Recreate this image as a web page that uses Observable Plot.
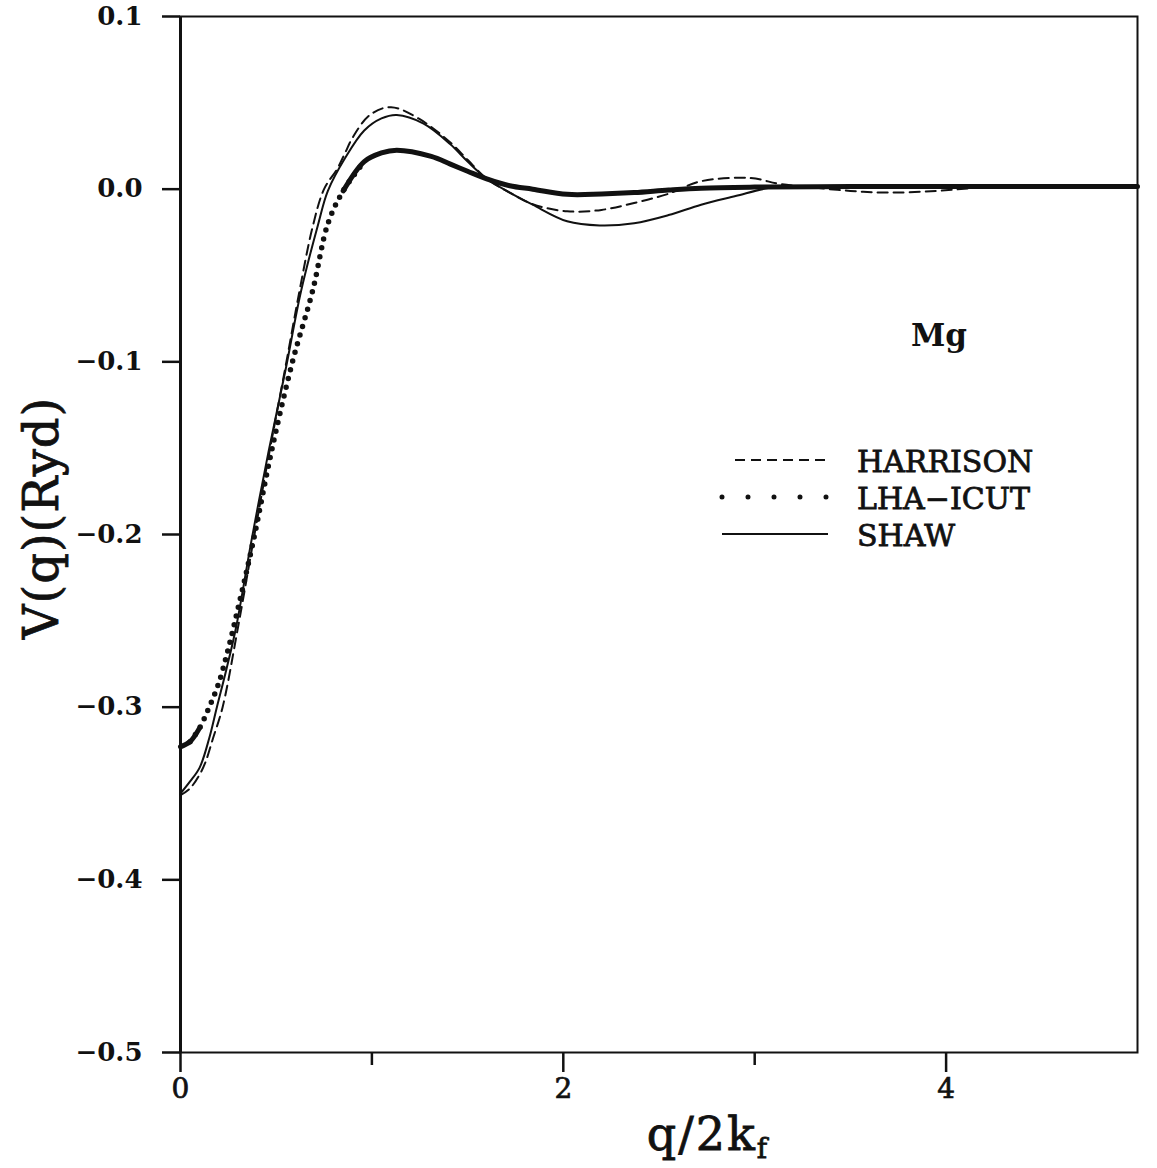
<!DOCTYPE html>
<html><head><meta charset="utf-8">
<script src="https://cdn.jsdelivr.net/npm/d3@7"></script>
<script src="https://cdn.jsdelivr.net/npm/@observablehq/plot@0.6"></script>
<style>body{margin:0;background:#fff}</style>
</head><body><div id="chart"></div>
<script>
// ---- data ----
const qShaw = [0, 0.05, 0.10, 0.15, 0.19, 0.24, 0.29, 0.37, 0.46, 0.55, 0.63, 0.72, 0.77, 0.86, 0.96, 1.05, 1.13, 1.27, 1.41, 1.50, 1.60, 1.72, 1.84, 2.02, 2.19, 2.37, 2.55, 2.72, 2.90, 3.07, 3.20, 3.60, 4.00, 4.50, 5.00];
const vShaw = [-0.350, -0.343, -0.335, -0.318, -0.300, -0.278, -0.254, -0.204, -0.152, -0.104, -0.059, -0.020, -0.001, 0.018, 0.034, 0.041, 0.043, 0.038, 0.026, 0.016, 0.006, -0.002, -0.009, -0.0186, -0.021, -0.0197, -0.015, -0.009, -0.004, 0.0006, 0.0015, 0.0015, 0.0015, 0.0015, 0.0015];

const qHarrison = [0, 0.05, 0.10, 0.13, 0.17, 0.22, 0.30, 0.38, 0.465, 0.55, 0.62, 0.69, 0.75, 0.82, 0.86, 0.90, 0.99, 1.10, 1.25, 1.41, 1.50, 1.60, 1.72, 1.84, 2.02, 2.20, 2.37, 2.54, 2.72, 2.98, 3.13, 3.30, 3.50, 3.70, 3.95, 4.20, 4.60, 5.00];
const vHarrison = [-0.351, -0.347, -0.339, -0.332, -0.318, -0.300, -0.254, -0.204, -0.152, -0.102, -0.060, -0.022, 0.000, 0.012, 0.021, 0.030, 0.043, 0.0475, 0.0405, 0.027, 0.017, 0.006, -0.002, -0.0087, -0.0128, -0.012, -0.008, -0.003, 0.0046, 0.0064, 0.003, 0.001, -0.001, -0.002, -0.001, 0.001, 0.0015, 0.0015];

const qLha = [0, 0.05, 0.10, 0.15, 0.20, 0.25, 0.30, 0.38, 0.475, 0.585, 0.69, 0.77, 0.85, 0.96, 1.05, 1.13, 1.31, 1.41, 1.50, 1.60, 1.72, 1.84, 2.02, 2.20, 2.37, 2.55, 2.72, 3.00, 3.50, 4.00, 4.50, 5.00];
const vLha = [-0.323, -0.320, -0.312, -0.300, -0.286, -0.266, -0.243, -0.204, -0.152, -0.100, -0.059, -0.020, -0.001, 0.016, 0.021, 0.0226, 0.019, 0.0145, 0.0104, 0.006, 0.002, 0.000, -0.003, -0.0028, -0.002, -0.0005, 0.0006, 0.0012, 0.0015, 0.0015, 0.0015, 0.0015];

const seriesNames = ["HARRISON", "LHA\u2212ICUT", "SHAW"];
const yTicks = [-0.5, -0.4, -0.3, -0.2, -0.1, 0.0, 0.1];
const xMajorTicks = [0, 2, 4];
const xMinorTicks = [1, 3];
const elementLabel = "Mg";
const xTitle = "q/2k";
const xTitleSub = "f";
const yTitle = "V(q)(Ryd)";

// ---- build tables ----
const toRows = (qs, vs) => qs.map((q, i) => ({q, v: vs[i]}));
const shaw = toRows(qShaw, vShaw);
const harrison = toRows(qHarrison, vHarrison);
const lha = toRows(qLha, vLha);
const lhaStart = lha.filter(d => d.q <= 0.10);
const lhaMid = lha.filter(d => d.q >= 0.05 && d.q <= 0.96);
const lhaEnd = lha.filter(d => d.q >= 0.85);

const FONT = "DejaVu Serif";
const INK = "#111";
const fmtY = d => (d < 0 ? "\u2212" : "") + Math.abs(d).toFixed(1);

const chart = Plot.plot({
  width: 1157,
  height: 1168,
  marginLeft: 180,
  marginRight: 20,
  marginTop: 16,
  marginBottom: 116,
  style: {fontFamily: FONT, background: "#fff", color: INK},
  x: {domain: [0, 5]},
  y: {domain: [-0.5, 0.1]},
  marks: [
    Plot.frame({stroke: INK, strokeWidth: 2}),
    Plot.ruleX([0], {stroke: INK, strokeWidth: 3}),
    Plot.axisY(yTicks, {tickSize: 18, tickPadding: 20, tickFormat: fmtY, label: null,
      fontSize: 26, fontWeight: "bold", fontFamily: FONT, strokeWidth: 2.5, stroke: INK, fill: INK}),
    Plot.axisX(xMajorTicks, {tickSize: 20, tickPadding: 6, tickFormat: d => String(d), label: null,
      fontSize: 28, fontFamily: FONT, strokeWidth: 2.5, stroke: INK, fill: INK}),
    Plot.axisX(xMinorTicks, {tickSize: 13, tickFormat: () => "", label: null, strokeWidth: 2.5, stroke: INK}),
    Plot.line(harrison, {x: "q", y: "v", curve: "catmull-rom", stroke: INK, strokeWidth: 2, strokeDasharray: "10,6"}),
    Plot.line(shaw, {x: "q", y: "v", curve: "catmull-rom", stroke: INK, strokeWidth: 2}),
    Plot.line(lhaStart, {x: "q", y: "v", curve: "catmull-rom", stroke: INK, strokeWidth: 5}),
    Plot.line(lhaMid, {x: "q", y: "v", curve: "catmull-rom", stroke: INK, strokeWidth: 5.5, strokeDasharray: "0,9", strokeLinecap: "round"}),
    Plot.line(lhaEnd, {x: "q", y: "v", curve: "catmull-rom", stroke: INK, strokeWidth: 5})
  ]
});

document.getElementById("chart").appendChild(chart);

const svg = d3.select(chart);
// heavier print look for the x tick labels
svg.selectAll('g[aria-label="x-axis tick label"] text').attr("stroke", INK).attr("stroke-width", 0.7);

// ---- annotations: legend, element label, axis titles ----
const legendDash = ["10,6", "0,26", null];
const legendWidth = [2, 5, 2];
const legendX1 = [735, 722, 722];
const g = svg.append("g").attr("font-family", FONT).attr("fill", INK).attr("text-anchor", "start");
seriesNames.forEach((name, i) => {
  const yy = 460 + i * 37;
  const ln = g.append("line").attr("x1", legendX1[i]).attr("x2", 828).attr("y1", yy).attr("y2", yy)
    .attr("stroke", INK).attr("stroke-width", legendWidth[i]);
  if (legendDash[i]) ln.attr("stroke-dasharray", legendDash[i]);
  if (i === 1) ln.attr("stroke-linecap", "round");
  g.append("text").attr("x", 857).attr("y", yy + 12).attr("font-size", 30)
    .attr("stroke", INK).attr("stroke-width", 0.8).text(name);
});
g.append("text").attr("x", 911).attr("y", 346).attr("font-size", 31).attr("font-weight", "bold").text(elementLabel);

const xt = g.append("text").attr("x", 708).attr("y", 1150).attr("font-size", 46)
  .attr("text-anchor", "middle").attr("letter-spacing", 2).attr("stroke", INK).attr("stroke-width", 0.8);
xt.append("tspan").text(xTitle);
xt.append("tspan").attr("font-size", 28).attr("dy", 8).text(xTitleSub);

g.append("text").attr("transform", "translate(58,518) rotate(-90)").attr("text-anchor", "middle")
  .attr("font-size", 48).attr("letter-spacing", 1).attr("stroke", INK).attr("stroke-width", 0.8).text(yTitle);
</script>
</body></html>
